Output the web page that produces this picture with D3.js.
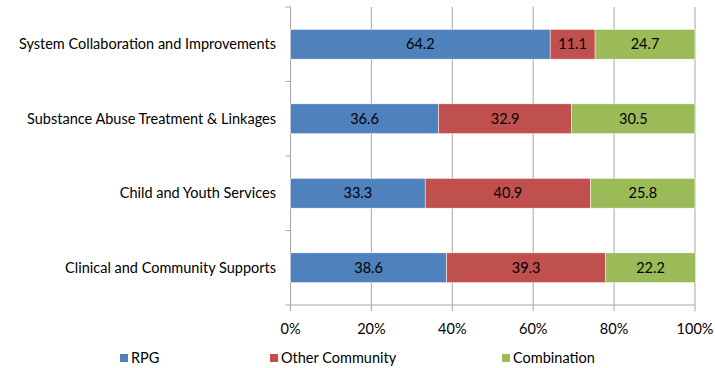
<!DOCTYPE html>
<html><head><meta charset="utf-8">
<script src="https://cdn.jsdelivr.net/npm/d3@7"></script>
<style>body{margin:0;background:#fff}svg text{font-family:Lato,"Open Sans",sans-serif}</style>
</head><body><svg id="c" width="715" height="368"></svg>
<script>
const categories=["System Collaboration and Improvements","Substance Abuse Treatment & Linkages","Child and Youth Services","Clinical and Community Supports"];
const seriesNames=["RPG","Other Community","Combination"];
const rpg=[64.2,36.6,33.3,38.6];
const other=[11.1,32.9,40.9,39.3];
const combo=[24.7,30.5,25.8,22.2];
const tickValues=[0,20,40,60,80,100];
const colors=["#4F81BD","#C0504D","#9BBB59"];

const FS=14.5;
const svg=d3.select("#c");
const L=290.5,R=695,T=7,B=305;
const x=d3.scaleLinear().domain([0,100]).range([L,R]);
const y=d3.scaleBand().domain(categories).range([T,B]).paddingInner(0.6).paddingOuter(0.3);
const yb=d3.scaleBand().domain(categories).range([T,B]);

// gridlines
svg.append("g").selectAll("line").data(tickValues.slice(1)).join("line")
 .attr("x1",d=>x(d)).attr("x2",d=>x(d)).attr("y1",T).attr("y2",B+6)
 .attr("stroke","#a6a6a6").attr("stroke-width",1);
// axes
svg.append("line").attr("x1",L).attr("x2",R).attr("y1",B).attr("y2",B).attr("stroke","#a6a6a6");
svg.append("line").attr("x1",L).attr("x2",L).attr("y1",T).attr("y2",B+6).attr("stroke","#a6a6a6");
const bounds=categories.map(c=>yb(c)).concat([B]);
svg.append("g").selectAll("line").data(bounds).join("line")
 .attr("x1",L-5).attr("x2",L).attr("y1",d=>d).attr("y2",d=>d).attr("stroke","#a6a6a6");

const data=categories.map((c,i)=>({c,v:[rpg[i],other[i],combo[i]]}));
const stack=d3.stack().keys([0,1,2]).value((d,k)=>d.v[k]);
const st=stack(data);
st.forEach((layer,k)=>{
 const g=svg.append("g");
 g.selectAll("rect").data(layer).join("rect")
  .attr("x",d=>x(d[0])).attr("width",d=>x(d[1])-x(d[0]))
  .attr("y",d=>y(d.data.c)).attr("height",y.bandwidth())
  .attr("fill",colors[k]).attr("stroke","#fff").attr("stroke-width",0.5);
 g.selectAll("text").data(layer).join("text")
  .attr("x",d=>(x(d[0])+x(d[1]))/2).attr("y",d=>y(d.data.c)+y.bandwidth()/2)
  .attr("dy","0.35em").attr("text-anchor","middle").attr("font-size",FS).attr("fill","#000")
  .text(d=>d.data.v[k].toFixed(1));
});

svg.append("g").selectAll("text").data(categories).join("text")
 .attr("x",276).attr("y",d=>y(d)+y.bandwidth()/2).attr("dy","0.35em")
 .attr("text-anchor","end").attr("font-size",FS).attr("fill","#000").text(d=>d);

svg.append("g").selectAll("text").data(tickValues).join("text")
 .attr("x",d=>x(d)).attr("y",329).attr("dy","0.35em").attr("text-anchor","middle")
 .attr("font-size",FS).attr("fill","#000").text(d=>d+"%");

const legX=[120,270,502];
const lg=svg.append("g").selectAll("g").data(seriesNames).join("g")
 .attr("transform",(d,i)=>`translate(${legX[i]},358)`);
lg.append("rect").attr("x",0).attr("y",-4).attr("width",8).attr("height",8).attr("fill",(d,i)=>colors[i]);
lg.append("text").attr("x",11).attr("y",0).attr("dy","0.35em").attr("font-size",FS).attr("fill","#000").text(d=>d);
</script></body></html>
